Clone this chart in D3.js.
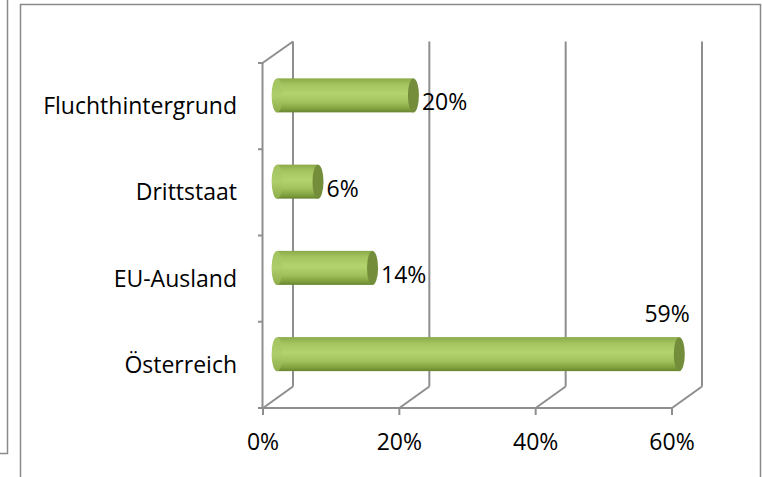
<!DOCTYPE html>
<html>
<head>
<meta charset="utf-8">
<script src="https://cdn.jsdelivr.net/npm/d3@7"></script>
<style>
  body { margin: 0; background: #fff; }
  text { font-family: "Open Sans", sans-serif; fill: #000; }
</style>
</head>
<body>
<svg id="chart"></svg>
<script>
"use strict";

let width = 762;
let height = 477;

// data
let categories = ["Fluchthintergrund", "Drittstaat", "EU-Ausland", "Österreich"];
let values = [0.20, 0.06, 0.14, 0.59];
let valueLabels = ["20%", "6%", "14%", "59%"];
let xTicks = [0, 0.2, 0.4, 0.6];
let xTickLabels = ["0%", "20%", "40%", "60%"];

let svg = d3.select('#chart').attr('width', width).attr('height', height);

let gridColor = "#8e8e8e";
let fontSize = "23px";

// frames (left edge of neighbour chart + this chart's border)
svg.append("path")
  .attr("d", "M7.5,0 L7.5,453.5 L0,453.5")
  .attr("fill", "none").attr("stroke", "#8a8a8a").attr("stroke-width", 1.5);
svg.append("rect")
  .attr("x", 20.5).attr("y", 4.5).attr("width", 740).attr("height", 480)
  .attr("fill", "none").attr("stroke", "#8a8a8a").attr("stroke-width", 1.5);

// scales (front plane)
var x = d3.scaleLinear().domain([0, 0.6]).range([263, 672]);
var y = d3.scaleBand().domain(categories).range([63, 408]);

// depth of the 3d box
let depthX = 30, depthY = -21.5;
let midX = depthX * 0.47, midY = depthY * 0.5;

let grid = svg.append("g")
  .attr("stroke", gridColor).attr("stroke-width", 2).attr("fill", "none");

// back wall gridlines
grid.selectAll("line.back")
  .data(xTicks)
  .enter()
  .append("line")
    .attr("x1", d => x(d) + depthX).attr("x2", d => x(d) + depthX)
    .attr("y1", y.range()[1] + depthY).attr("y2", y.range()[0] + depthY);

// floor diagonals
grid.selectAll("line.floor")
  .data(xTicks)
  .enter()
  .append("line")
    .attr("x1", d => x(d)).attr("x2", d => x(d) + depthX)
    .attr("y1", y.range()[1]).attr("y2", y.range()[1] + depthY);

// front baseline + x ticks
grid.append("line")
  .attr("x1", x(0)).attr("x2", x(0.6))
  .attr("y1", y.range()[1]).attr("y2", y.range()[1]);
grid.selectAll("line.xtick")
  .data(xTicks)
  .enter()
  .append("line")
    .attr("x1", d => x(d)).attr("x2", d => x(d))
    .attr("y1", y.range()[1]).attr("y2", y.range()[1] + 7);

// left wall: front axis, top diagonal, category ticks
grid.append("line")
  .attr("x1", x(0) - 0.5).attr("x2", x(0) - 0.5)
  .attr("y1", y.range()[0]).attr("y2", y.range()[1]);
grid.append("line")
  .attr("x1", x(0) - 0.5).attr("x2", x(0) + depthX)
  .attr("y1", y.range()[0]).attr("y2", y.range()[0] + depthY);
let boundaries = categories.map(c => y(c)).concat([y.range()[1]]);
grid.selectAll("line.ytick")
  .data(boundaries)
  .enter()
  .append("line")
    .attr("x1", x(0) - 5).attr("x2", x(0))
    .attr("y1", d => d).attr("y2", d => d);

// cylinder gradient
let defs = svg.append("defs");
let grad = defs.append("linearGradient")
  .attr("id", "cyl").attr("x1", 0).attr("y1", 0).attr("x2", 0).attr("y2", 1);
[["0%", "#8aa948"], ["18%", "#a4c460"], ["45%", "#b3d36e"], ["70%", "#a2c25e"],
 ["90%", "#80a03d"], ["100%", "#66842e"]].forEach(s =>
  grad.append("stop").attr("offset", s[0]).attr("stop-color", s[1]));
let capGrad = defs.append("linearGradient")
  .attr("id", "cap").attr("x1", 0).attr("y1", 0).attr("x2", 0).attr("y2", 1);
[["0%", "#a2c15f"], ["50%", "#aecd6b"], ["100%", "#8eac4a"]].forEach(s =>
  capGrad.append("stop").attr("offset", s[0]).attr("stop-color", s[1]));

let barH = 34, rx = 5.5;
let rows = categories.map((c, i) => ({
  cat: c, value: values[i], label: valueLabels[i],
  cy: y(c) + y.bandwidth() / 2 + midY
}));

// label goes above the bar when there is no room on the right
function labelAbove(d) { return x(d.value) + midX + rx + 40 > x(0.6) + depthX; }

let bars = svg.selectAll("g.bar")
  .data(rows)
  .enter()
  .append("g")
  .attr("class", "bar");

bars.append("rect")
  .attr("x", d => x(0) + midX)
  .attr("y", d => d.cy - barH / 2)
  .attr("width", d => x(d.value) - x(0))
  .attr("height", barH)
  .attr("fill", "url(#cyl)");
bars.append("ellipse")
  .attr("cx", d => x(0) + midX)
  .attr("cy", d => d.cy)
  .attr("rx", rx).attr("ry", barH / 2)
  .attr("fill", "url(#cap)");
bars.append("ellipse")
  .attr("cx", d => x(d.value) + midX)
  .attr("cy", d => d.cy)
  .attr("rx", rx).attr("ry", barH / 2)
  .attr("fill", "#738d3a");

// value labels
bars.append("text")
  .attr("x", d => x(d.value) + midX + rx + (labelAbove(d) ? 5 : 3))
  .attr("y", d => labelAbove(d) ? d.cy - 32 : d.cy + 15)
  .attr("text-anchor", d => labelAbove(d) ? "end" : "start")
  .style("font-size", fontSize)
  .text(d => d.label);

// category labels
svg.selectAll("text.cat")
  .data(categories)
  .enter()
  .append("text")
    .attr("x", 237)
    .attr("y", d => y(d) + y.bandwidth() / 2 + 8)
    .attr("text-anchor", "end")
    .style("font-size", fontSize)
    .text(d => d);

// x tick labels
svg.selectAll("text.xt")
  .data(xTicks)
  .enter()
  .append("text")
    .attr("x", d => x(d))
    .attr("y", 450)
    .attr("text-anchor", "middle")
    .style("font-size", fontSize)
    .text((d, i) => xTickLabels[i]);
</script>
</body>
</html>
